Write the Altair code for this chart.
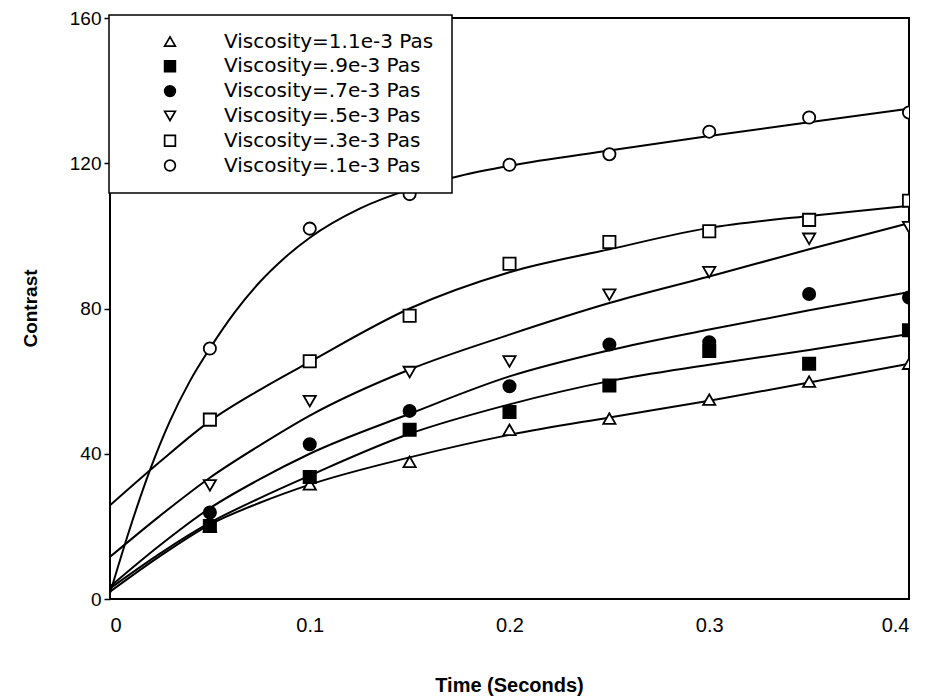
import altair as alt
import pandas as pd

# ---------------- data ----------------
series = ["Viscosity=1.1e-3 Pas", "Viscosity=.9e-3 Pas", "Viscosity=.7e-3 Pas",
          "Viscosity=.5e-3 Pas", "Viscosity=.3e-3 Pas", "Viscosity=.1e-3 Pas"]
shapes = ["triangle-up", "square", "circle", "triangle-down", "square", "circle"]
fills = ["white", "black", "black", "white", "white", "white"]

# measured points
time_pts = [0.05, 0.10, 0.15, 0.20, 0.25, 0.30, 0.35, 0.40]
pts_11 = [20.0, 31.6, 37.8, 46.6, 49.7, 54.9, 59.9, 64.8]
pts_09 = [20.1, 33.6, 46.6, 51.5, 58.8, 68.3, 64.8, 74.0]
pts_07 = [23.8, 42.6, 51.8, 58.6, 70.1, 70.7, 84.0, 83.0]
pts_05 = [31.3, 54.5, 62.5, 65.4, 83.8, 90.0, 99.2, 102.4]
pts_03 = [49.4, 65.5, 78.0, 92.3, 98.3, 101.3, 104.4, 109.7]
pts_01 = [69.0, 102.0, 111.5, 119.6, 122.5, 128.7, 132.6, 134.0]

# fitted curves
curve_t = [0.0, 0.025, 0.05, 0.075, 0.10, 0.15, 0.20, 0.25, 0.30, 0.35, 0.40]
curve_11 = [2.0, 11.8, 20.5, 26.5, 31.5, 39.0, 45.2, 50.0, 54.6, 59.6, 64.8]
curve_09 = [2.9, 12.5, 21.0, 27.8, 34.0, 45.5, 53.6, 60.0, 64.5, 68.6, 73.0]
curve_07 = [3.4, 14.8, 25.0, 33.0, 40.0, 51.0, 61.3, 68.5, 74.2, 79.5, 84.5]
curve_05 = [11.6, 22.9, 33.4, 42.3, 50.5, 63.2, 72.8, 81.5, 88.8, 96.3, 103.5]
curve_03 = [25.8, 37.8, 49.0, 57.6, 65.3, 80.0, 90.0, 96.3, 102.2, 105.5, 108.3]
curve_t_01 = [0.0, 0.01, 0.02, 0.03, 0.04, 0.05, 0.0625, 0.075, 0.0875, 0.10,
              0.125, 0.15, 0.175, 0.20, 0.25, 0.30, 0.35, 0.40]
curve_01 = [1.6, 19.5, 35.5, 49.0, 60.0, 69.0, 79.0, 87.3, 94.0, 99.5,
            107.5, 112.8, 116.5, 119.3, 123.5, 127.5, 131.3, 135.0]

x_ticks = [0, 0.1, 0.2, 0.3, 0.4]
y_ticks = [0, 40, 80, 120, 160]

# ---------------- tables ----------------
pt_lists = [pts_11, pts_09, pts_07, pts_05, pts_03, pts_01]
pts_rows = []
for s, vals in zip(series, pt_lists):
    for t, v in zip(time_pts, vals):
        pts_rows.append({"series": s, "t": t, "v": v})
pts_df = pd.DataFrame(pts_rows)

curve_defs = [(curve_t, curve_11), (curve_t, curve_09), (curve_t, curve_07),
              (curve_t, curve_05), (curve_t, curve_03), (curve_t_01, curve_01)]
curve_rows = []
for s, (ts, vs) in zip(series, curve_defs):
    for t, v in zip(ts, vs):
        curve_rows.append({"series": s, "t": t, "v": v})
curve_df = pd.DataFrame(curve_rows)

legend_df = pd.DataFrame({"series": series, "idx": list(range(len(series)))})

FONT = "Liberation Sans"
LEG_FONT = "DejaVu Sans"

x_enc = alt.X("t:Q", scale=alt.Scale(domain=[0, 0.4], nice=False, zero=False),
              axis=alt.Axis(values=x_ticks, title="Time (Seconds)",
                            labelExpr="datum.value == 0 ? '0' : format(datum.value, '.1f')",
                            tickSize=0, labelPadding=16, labelFontSize=20,
                            labelColor="black", domain=False, grid=False,
                            titleFontSize=20, titleFontWeight="bold", titleColor="black",
                            titleX=399, titleY=86, titleBaseline="middle",
                            titleAlign="center"))
y_enc = alt.Y("v:Q", scale=alt.Scale(domain=[0, 160], nice=False),
              axis=alt.Axis(values=y_ticks, title="Contrast", tickSize=6,
                            tickColor="black", tickWidth=1.5, labelPadding=3,
                            labelFontSize=19, labelColor="black", domain=False,
                            grid=False, titleFontSize=19, titleFontWeight="bold",
                            titleColor="black", titleAngle=-90, titleX=-80,
                            titleY=290, titleBaseline="middle", titleAlign="center"))

shape_scale = alt.Scale(domain=series, range=shapes)
fill_scale = alt.Scale(domain=series, range=fills)

lines = alt.Chart(curve_df).mark_line(
    color="black", strokeWidth=2, interpolate="monotone", clip=True
).encode(x=x_enc, y=y_enc, detail="series:N")

points = alt.Chart(pts_df).mark_point(
    filled=True, stroke="black", strokeWidth=1.8, size=150, opacity=1, clip=True
).encode(
    x=alt.X("t:Q"), y=alt.Y("v:Q"),
    shape=alt.Shape("series:N", scale=shape_scale, legend=None),
    fill=alt.Fill("series:N", scale=fill_scale, legend=None),
)

leg_box = alt.Chart(pd.DataFrame({"a": [0]})).mark_rect(
    fill="white", stroke="black", strokeWidth=1.5
).encode(x=alt.value(-1), x2=alt.value(342), y=alt.value(-3), y2=alt.value(175))

leg_sym = alt.Chart(legend_df).transform_calculate(
    ly="23.5 + 24.8 * datum.idx"
).mark_point(filled=True, stroke="black", strokeWidth=1.7, size=115, opacity=1).encode(
    x=alt.value(60),
    y=alt.Y("ly:Q", scale=None),
    shape=alt.Shape("series:N", scale=shape_scale, legend=None),
    fill=alt.Fill("series:N", scale=fill_scale, legend=None),
)

leg_txt = alt.Chart(legend_df).transform_calculate(
    ly="23.5 + 24.8 * datum.idx"
).mark_text(align="left", baseline="middle", fontSize=20, font=LEG_FONT, color="black").encode(
    x=alt.value(114),
    y=alt.Y("ly:Q", scale=None),
    text="series:N",
)

chart = alt.layer(lines, points, leg_box, leg_sym, leg_txt).resolve_scale(
    shape="shared", fill="shared"
).properties(
    width=799, height=581,
    autosize=alt.AutoSizeParams(type="none"),
    padding={"left": 102, "top": 10, "right": 10, "bottom": 100},
    background="white",
).configure(
    font=FONT
).configure_view(
    stroke="black", strokeWidth=2
)

chart.save("out.html", embed_options={"renderer": "svg", "actions": False})
